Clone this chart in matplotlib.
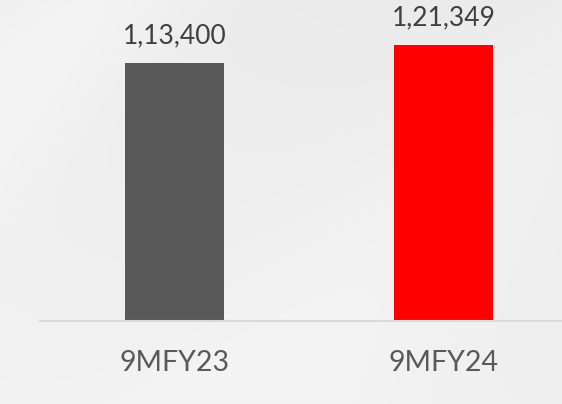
import matplotlib.pyplot as plt
import numpy as np

categories = ["9MFY23", "9MFY24"]
values = [113400, 121349]
value_labels = ["1,13,400", "1,21,349"]
bar_colors = ["#595959", "#FF0000"]

plt.rcParams['font.family'] = ['Lato', 'DejaVu Sans']

fig = plt.figure(figsize=(5.62, 4.04), dpi=100)

# soft grey background with diagonal light streaks
bg = fig.add_axes([0, 0, 1, 1], zorder=-1)
h, w = 404, 562
yy, xx = np.mgrid[0:h, 0:w]
d = (xx - (h - yy)) / w
shade = 0.93 + 0.02 * (yy / h) - 0.01 * (xx / w)
shade = shade + 0.025 * np.exp(-((d + 0.55) / 0.18) ** 2) + 0.015 * np.exp(-((d - 0.45) / 0.25) ** 2)
shade = np.clip(shade, 0, 1)
bg.imshow(np.dstack([shade] * 3), aspect='auto', extent=[0, 1, 0, 1])
bg.set_axis_off()

ax = fig.add_axes([40 / 562, 83 / 404, 1 - 40 / 562, 321 / 404])
ax.patch.set_alpha(0)
x = np.arange(len(categories))
bars = ax.bar(x, values, width=0.368, color=bar_colors, zorder=2)
ax.set_xlim(-0.5, 1.44)
ax.set_ylim(0, 121349 * 321 / 276)

for b, lab in zip(bars, value_labels):
    ax.annotate(lab, (b.get_x() + b.get_width() / 2, b.get_height()),
                xytext=(0, 10.5), textcoords='offset points',
                ha='center', va='bottom', fontsize=19, color='#404040')

for s in ['top', 'right', 'left']:
    ax.spines[s].set_visible(False)
ax.spines['bottom'].set_color('#D9D9D9')
ax.spines['bottom'].set_linewidth(1.5)
ax.set_yticks([])
ax.set_xticks(x)
ax.set_xticklabels(categories, fontsize=20.5, color='#595959')
ax.tick_params(axis='x', length=0, pad=21)

fig.savefig('out.png', dpi=100)
